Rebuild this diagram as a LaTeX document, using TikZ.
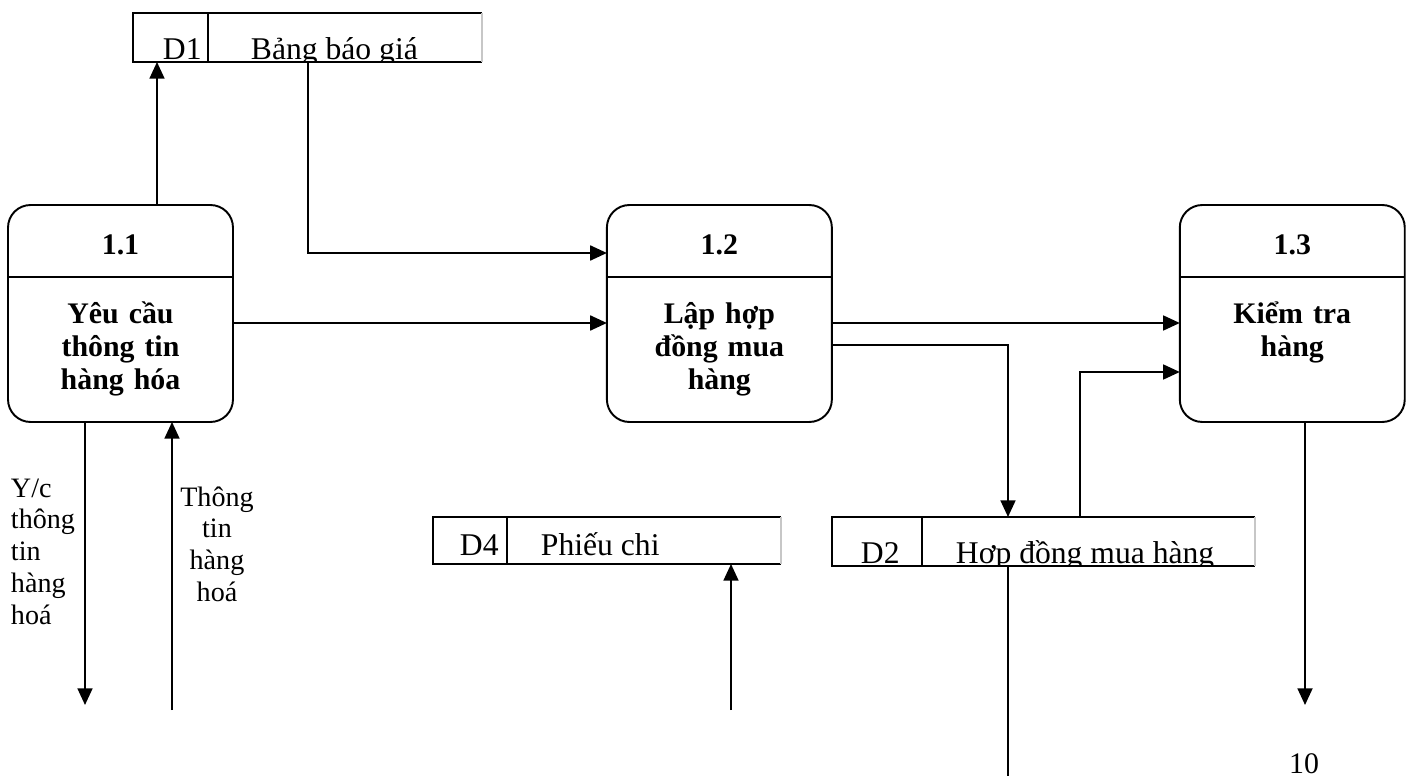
\documentclass[tikz,border=0pt]{standalone}
\usepackage{fontspec}
\setmainfont{Liberation Serif}
\usepackage{tikz}
\usetikzlibrary{arrows.meta, positioning}

\begin{document}
\begin{tikzpicture}[x=0.02cm, y=-0.02cm,
			>={Triangle[length=9.5pt, width=8.5pt]},
			line width=1.1pt,
			process/.style={draw, rounded corners=0.45cm, minimum width=4.5cm, minimum height=4.34cm, inner sep=0pt, outer sep=0pt},
			ptitle/.style={font=\fontsize{17}{19}\selectfont\bfseries, anchor=base, inner sep=0pt},
			pbody/.style={font=\fontsize{17}{18.7}\selectfont\bfseries, align=center, text width=4cm, anchor=base, inner sep=0pt},
			store/.style={minimum height=0.98cm, inner sep=0pt, outer sep=0pt},
			storeedge/.style={draw=black!22},
			slabel/.style={font=\fontsize{18}{20}\selectfont, anchor=base west, inner sep=0pt},
			flow/.style={font=\fontsize{16}{18.1}\selectfont, inner sep=0pt, text width=1.8cm}]
			
			\useasboundingbox (0,0) rectangle (1415,776);
			
			% processes
			\node[process] (p11) at (120.5,313.5) {};
			\node[process, right=7.48cm of p11] (p12) {};
			\node[process, right=6.96cm of p12] (p13) {};
			\draw (p11.west |- 0,277) -- (p11.east |- 0,277);
			\draw (p12.west |- 0,277) -- (p12.east |- 0,277);
			\draw (p13.west |- 0,277) -- (p13.east |- 0,277);
			\node[ptitle] (t11) at (p11.center |- 0,255) {1.1};
			\node[ptitle] (t12) at (p12.center |- 0,255) {1.2};
			\node[ptitle] (t13) at (p13.center |- 0,255) {1.3};
			\node[pbody] (b11) at (p11.center |- 0,324) {Yêu cầu\\thông tin\\hàng hóa};
			\node[pbody] (b12) at (p12.center |- 0,324) {Lập hợp\\đồng mua\\hàng};
			\node[pbody] (b13) at (p13.center |- 0,324) {Kiểm tra\\hàng};
			
			% data stores
			\node[store, minimum width=6.98cm] (d1) at (307.5,37.5) {};
			\node[store, minimum width=6.96cm, minimum height=0.94cm] (d4) at (607,540.5) {};
			\node[store, minimum width=8.46cm] (d2) at (1043.5,541.5) {};
			\draw (d1.north east) -- (d1.north west) -- (d1.south west) -- (d1.south east);
			\draw[storeedge] (d1.north east) -- (d1.south east);
			\draw (d1.north -| 208,0) -- (d1.south -| 208,0);
			\draw (d4.north east) -- (d4.north west) -- (d4.south west) -- (d4.south east);
			\draw[storeedge] (d4.north east) -- (d4.south east);
			\draw (d4.north -| 507,0) -- (d4.south -| 507,0);
			\draw (d2.north east) -- (d2.north west) -- (d2.south west) -- (d2.south east);
			\draw[storeedge] (d2.north east) -- (d2.south east);
			\draw (d2.north -| 922,0) -- (d2.south -| 922,0);
			\begin{scope}
				\clip (d1.north west) rectangle (d1.south east);
				\node[slabel] (d1id) at (162,60) {D1};
				\node[slabel] (d1txt) at (250,60) {Bảng báo giá};
			\end{scope}
			\begin{scope}
				\clip (d4.north west) rectangle (d4.south east);
				\node[slabel] (d4id) at (459,555) {D4};
				\node[slabel] (d4txt) at (540,555) {Phiếu chi};
			\end{scope}
			\begin{scope}
				\clip (d2.north west) rectangle (d2.south east);
				\node[slabel] (d2id) at (860,563) {D2};
				\node[slabel] (d2txt) at (955,563) {Hợp đồng mua hàng};
			\end{scope}
			
			% free ends
			\coordinate (reqout) at (85,705);
			\coordinate (infoin) at (172,710);
			\coordinate (chiin) at (731,710);
			\coordinate (d2out) at (1008,790);
			\coordinate (p13out) at (1305,705);
			
			% flows
			\draw[->] (p11.north -| 157,0) -- (d1.south -| 157,0);
			\draw[->] (d1.south -| 308,0) |- (p12.west |- 0,253);
			\draw[->] (p11.east |- 0,323) -- (p12.west |- 0,323);
			\draw[->] (p12.east |- 0,323) -- (p13.west |- 0,323);
			\draw[->] (p12.east |- 0,345) -| (d2.north -| 1008,0);
			\draw[->] (d2.north -| 1080,0) |- (p13.west |- 0,372);
			\draw (d2.south -| 1008,0) -- (d2out);
			\draw[->] (p11.south -| reqout) -- (reqout);
			\draw[->] (infoin) -- (p11.south -| infoin);
			\draw[->] (chiin) -- (d4.south -| chiin);
			\draw[->] (p13.south -| p13out) -- (p13out);
			
			\node[flow, align=left, anchor=base west] (lreq) at (10,497) {Y/c\\thông\\tin\\hàng\\hoá};
			\node[flow, align=center, anchor=base] (linfo) at (217,506) {Thông\\tin\\hàng\\hoá};
			\node[font=\fontsize{17}{20}\selectfont, anchor=base, inner sep=0pt] (pg) at (1304,773) {10};
		\end{tikzpicture}
\end{document}
